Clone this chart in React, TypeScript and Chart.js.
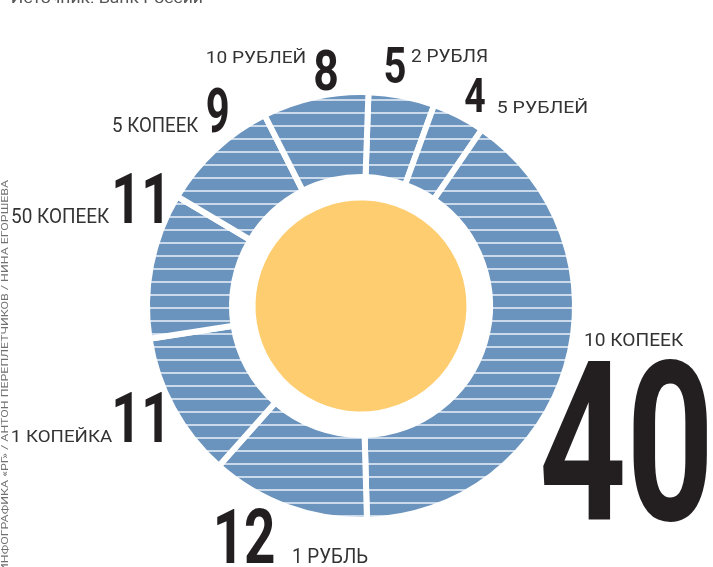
import React, { useEffect, useRef } from "react";
import { Chart, registerables } from "chart.js";

Chart.register(...registerables);

// ---- data ----
const categories = ["2 РУБЛЯ", "5 РУБЛЕЙ", "10 КОПЕЕК", "1 РУБЛЬ", "1 КОПЕЙКА", "50 КОПЕЕК", "5 КОПЕЕК", "10 РУБЛЕЙ"];
const shares = [5, 4, 40, 12, 11, 11, 9, 8];
const sourceText = "Источник: Банк России";
const creditText = "ИНФОГРАФИКА «РГ» / АНТОН ПЕРЕПЛЕТЧИКОВ / НИНА ЕГОРШЕВА";

// ---- label layout: [left x, baseline y, cap height, width] ----
const labelLayout = [
  { num: [385, 83, 36, 20], name: [411, 62, 14, 76] },
  { num: [465, 112, 35, 20], name: [498, 113, 15, 89] },
  { num: [543, 520, 163, 164], name: [585, 346, 14, 99] },
  { num: [217, 563, 55, 57], name: [293, 563, 15, 75] },
  { num: [115, 442, 51, 47], name: [12, 442, 14, 101] },
  { num: [115, 223, 51, 47], name: [12, 223, 15, 98] },
  { num: [207, 132, 45, 21], name: [113, 132, 15, 86] },
  { num: [315, 90, 40, 22], name: [207, 63, 15, 98] },
];

const BLUE = "#6a93bd";
const STRIPE = "#cbdaea";
const YELLOW = "#fecd70";

function makePattern(): CanvasPattern | string {
  const c = document.createElement("canvas");
  c.width = 16;
  c.height = 13;
  const g = c.getContext("2d");
  if (!g) return BLUE;
  g.fillStyle = BLUE;
  g.fillRect(0, 0, 16, 13);
  g.fillStyle = STRIPE;
  g.fillRect(0, 8, 16, 2);
  const p = g.createPattern(c, "repeat");
  return p || BLUE;
}

function fitText(
  ctx: CanvasRenderingContext2D,
  s: string,
  x: number,
  base: number,
  capH: number,
  width: number,
  weight: string,
  color: string
) {
  ctx.save();
  ctx.font = `${weight} 100px Roboto`;
  const m = ctx.measureText(s);
  const asc = m.actualBoundingBoxAscent || 71;
  const size = (capH * 100) / asc;
  ctx.font = `${weight} ${size}px Roboto`;
  const m2 = ctx.measureText(s);
  const w = m2.actualBoundingBoxRight + m2.actualBoundingBoxLeft;
  const sx = width / w;
  ctx.translate(x, base);
  ctx.scale(sx, 1);
  ctx.fillStyle = color;
  ctx.textBaseline = "alphabetic";
  ctx.textAlign = "left";
  ctx.fillText(s, m2.actualBoundingBoxLeft, 0);
  ctx.restore();
}

const labelPlugin = {
  id: "coinLabels",
  afterDraw(chart: any) {
    const ctx: CanvasRenderingContext2D = chart.ctx;
    shares.forEach((v, i) => {
      const L = labelLayout[i];
      fitText(ctx, String(v), L.num[0], L.num[1], L.num[2], L.num[3], "700", "#231f20");
      fitText(ctx, categories[i], L.name[0], L.name[1], L.name[2], L.name[3], "400", "#333333");
    });
    // source (cut at top)
    fitText(ctx, sourceText, 12, 3, 11, 190, "400", "#555555");
    // vertical credit
    ctx.save();
    ctx.translate(8, 572);
    ctx.rotate(-Math.PI / 2);
    fitText(ctx, creditText, 0, 0, 7, 392, "400", "#707070");
    ctx.restore();
  },
};

export default function App() {
  const ref = useRef<HTMLCanvasElement | null>(null);
  useEffect(() => {
    if (!ref.current) return;
    const chart = new Chart(ref.current, {
      type: "doughnut",
      data: {
        labels: categories,
        datasets: [
          {
            data: shares,
            backgroundColor: makePattern() as any,
            borderColor: "#ffffff",
            borderWidth: 6,
            hoverBorderWidth: 6,
            weight: 85,
          } as any,
          {
            data: [1],
            backgroundColor: "rgba(0,0,0,0)",
            borderWidth: 0,
            hoverBorderWidth: 0,
            weight: 23.5,
          } as any,
          {
            data: [1],
            backgroundColor: YELLOW,
            borderWidth: 0,
            hoverBorderWidth: 0,
            weight: 105.5,
          } as any,
        ],
      },
      options: {
        responsive: false,
        animation: false,
        devicePixelRatio: 1,
        rotation: 2,
        cutout: 0,
        events: [],
        layout: { padding: { left: 144, right: 135, top: 89, bottom: 44 } },
        plugins: { legend: { display: false }, tooltip: { enabled: false } },
      } as any,
      plugins: [labelPlugin],
    });
    return () => chart.destroy();
  }, []);
  return (
    <div style={{ position: "absolute", left: 0, top: 0, width: 713, height: 567, background: "#fff" }}>
      <canvas ref={ref} width={713} height={567} style={{ display: "block" }} />
    </div>
  );
}
